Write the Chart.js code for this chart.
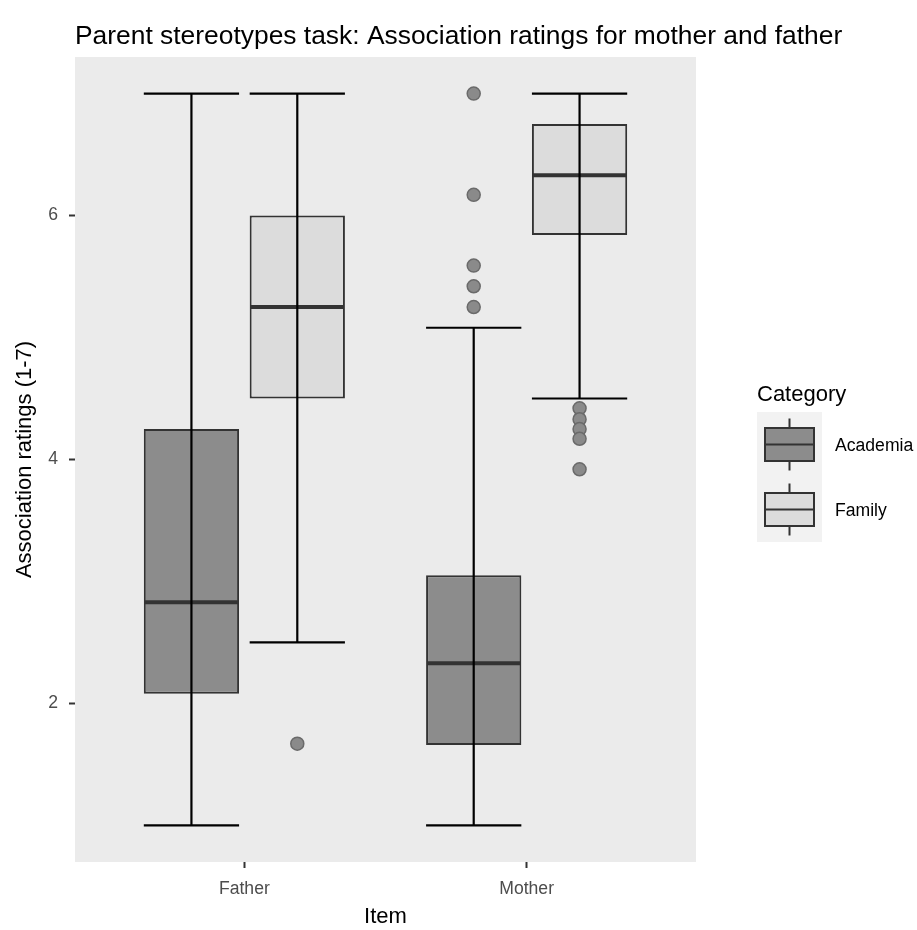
<!DOCTYPE html>
<html>
<head>
<meta charset="utf-8">
<title>Parent stereotypes task</title>
<script src="https://cdn.jsdelivr.net/npm/chart.js@4.4.0/dist/chart.umd.min.js"></script>
<style>
  html, body { margin: 0; padding: 0; background: #fff; }
  #wrap { width: 917px; height: 930px; }
</style>
</head>
<body>
<div id="wrap"><canvas id="chart" width="917" height="930"></canvas></div>
<script>
// x categories, legend entries and y ticks
const items = ["Father", "Mother"];
const categoryNames = ["Academia", "Family"];
const yTicks = [2, 4, 6];
const chartTitle = "Parent stereotypes task: Association ratings for mother and father";

// Academia boxes (Father, Mother)
const academiaLow = [1.0, 1.0];
const academiaQ1 = [2.08, 1.66];
const academiaMedian = [2.83, 2.33];
const academiaQ3 = [4.25, 3.05];
const academiaHigh = [7.0, 5.08];
const academiaOutliers = [[], [7.0, 6.17, 5.59, 5.42, 5.25]];

// Family boxes (Father, Mother)
const familyLow = [2.5, 4.5];
const familyQ1 = [4.5, 5.84];
const familyMedian = [5.25, 6.33];
const familyQ3 = [6.0, 6.75];
const familyHigh = [7.0, 7.0];
const familyOutliers = [[1.67], [4.42, 4.33, 4.25, 4.17, 3.92]];

const fills = ["#8c8c8c", "#dcdcdc"];
const stats = [
    { low: academiaLow, median: academiaMedian, high: academiaHigh, outliers: academiaOutliers },
    { low: familyLow, median: familyMedian, high: familyHigh, outliers: familyOutliers }
];

const FONT = "'Liberation Sans', Arial, sans-serif";
Chart.defaults.font.family = FONT;
Chart.defaults.color = "#4d4d4d";

function line(ctx, x1, y1, x2, y2) {
    ctx.beginPath();
    ctx.moveTo(x1, y1);
    ctx.lineTo(x2, y2);
    ctx.stroke();
}

// panel background, medians, whiskers, outliers, title and the legend
const boxplotExtras = {
    id: "boxplotExtras",
    beforeDraw(chart) {
        const { ctx, chartArea: a } = chart;
        ctx.save();
        ctx.fillStyle = "#ebebeb";
        ctx.fillRect(a.left, a.top, a.right - a.left, a.bottom - a.top);
        ctx.restore();
    },
    afterDatasetsDraw(chart) {
        const ctx = chart.ctx;
        const y = chart.scales.y;
        ctx.save();
        stats.forEach((s, d) => {
            chart.getDatasetMeta(d).data.forEach((bar, i) => {
                const half = bar.width / 2;
                // median
                ctx.strokeStyle = "#333333";
                ctx.lineWidth = 4;
                line(ctx, bar.x - half + 1, y.getPixelForValue(s.median[i]), bar.x + half - 1, y.getPixelForValue(s.median[i]));
                // whiskers with caps
                ctx.strokeStyle = "#000000";
                ctx.lineWidth = 2.2;
                const yl = y.getPixelForValue(s.low[i]);
                const yh = y.getPixelForValue(s.high[i]);
                line(ctx, bar.x, yl, bar.x, yh);
                line(ctx, bar.x - half, yl, bar.x + half, yl);
                line(ctx, bar.x - half, yh, bar.x + half, yh);
                // outliers
                s.outliers[i].forEach(v => {
                    ctx.beginPath();
                    ctx.arc(bar.x, y.getPixelForValue(v), 6.5, 0, Math.PI * 2);
                    ctx.fillStyle = "#8a8a8a";
                    ctx.fill();
                    ctx.lineWidth = 1.5;
                    ctx.strokeStyle = "#6a6a6a";
                    ctx.stroke();
                });
            });
        });
        ctx.restore();
    },
    afterDraw(chart) {
        const ctx = chart.ctx;
        ctx.save();
        // title, left aligned with the panel
        ctx.fillStyle = "#000000";
        ctx.font = "26.4px " + FONT;
        ctx.textBaseline = "alphabetic";
        ctx.fillText(chartTitle, chart.chartArea.left, 44);

        // legend
        const left = 757;
        ctx.font = "22px " + FONT;
        ctx.fillText("Category", left, 401);
        ctx.fillStyle = "#f2f2f2";
        ctx.fillRect(left, 412, 65, 130);
        categoryNames.forEach((name, k) => {
            const cy = 444.5 + k * 65;
            const cx = left + 32.5;
            ctx.strokeStyle = "#333333";
            ctx.lineWidth = 2;
            line(ctx, cx, cy - 26, cx, cy + 26);
            ctx.fillStyle = fills[k];
            ctx.fillRect(cx - 24.5, cy - 16.5, 49, 33);
            ctx.strokeRect(cx - 24.5, cy - 16.5, 49, 33);
            line(ctx, cx - 24.5, cy, cx + 24.5, cy);
            ctx.fillStyle = "#000000";
            ctx.font = "17.6px " + FONT;
            ctx.fillText(name, 835, cy + 6.3);
        });
        ctx.restore();
    }
};

const boxData = (q1, q3) => items.map((_, i) => ({ x: i, y: [q1[i], q3[i]] }));

new Chart(document.getElementById("chart"), {
    type: "bar",
    data: {
        datasets: [
            {
                label: categoryNames[0],
                data: boxData(academiaQ1, academiaQ3),
                backgroundColor: fills[0],
                borderColor: "#333333",
                borderWidth: 2,
                borderSkipped: false,
                categoryPercentage: 0.75,
                barPercentage: 0.9
            },
            {
                label: categoryNames[1],
                data: boxData(familyQ1, familyQ3),
                backgroundColor: fills[1],
                borderColor: "#333333",
                borderWidth: 2,
                borderSkipped: false,
                categoryPercentage: 0.75,
                barPercentage: 0.9
            }
        ]
    },
    options: {
        responsive: false,
        animation: false,
        events: [],
        layout: { padding: { left: 0, top: 57, bottom: 0, right: 221 } },
        plugins: {
            legend: { display: false },
            tooltip: { enabled: false },
            title: { display: false }
        },
        scales: {
            x: {
                type: "linear",
                min: -0.6,
                max: 1.6,
                offset: false,
                afterBuildTicks: scale => { scale.ticks = items.map((_, i) => ({ value: i })); },
                afterFit: scale => { scale.height = 68; },
                ticks: {
                    callback: v => items[v],
                    color: "#4d4d4d",
                    font: { size: 17.6 },
                    padding: 11,
                    autoSkip: false,
                    maxRotation: 0
                },
                grid: { offset: false, drawOnChartArea: false, tickLength: 6, tickWidth: 2, tickColor: "#333333" },
                border: { display: false },
                title: { display: true, text: "Item", color: "#000000", font: { size: 22, lineHeight: 1 }, padding: { top: 0, bottom: 2 } }
            },
            y: {
                type: "linear",
                min: 0.7,
                max: 7.3,
                afterBuildTicks: scale => { scale.ticks = yTicks.map(v => ({ value: v })); },
                afterFit: scale => { scale.width = 75; },
                ticks: { color: "#4d4d4d", font: { size: 17.6 }, padding: 11 },
                grid: { drawOnChartArea: false, tickLength: 6, tickWidth: 2, tickColor: "#333333" },
                border: { display: false },
                title: { display: true, text: "Association ratings (1-7)", color: "#000000", font: { size: 22, lineHeight: 1 }, padding: { top: 14, bottom: 0 } }
            }
        }
    },
    plugins: [boxplotExtras]
});
</script>
</body>
</html>
